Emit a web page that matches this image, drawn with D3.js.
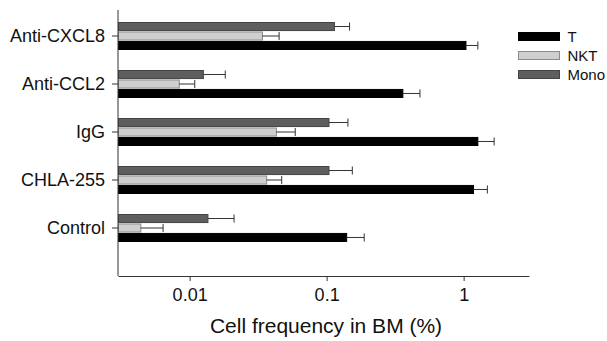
<!DOCTYPE html>
<html>
<head>
<meta charset="utf-8">
<script src="https://cdn.jsdelivr.net/npm/d3@7"></script>
<style>
  body { margin: 0; background: #fff; }
  svg { font-family: "Liberation Sans", Arial, sans-serif; }
</style>
</head>
<body>
<div id="chart"></div>
<script>
// Data (cell frequency in BM, %)
const categories = ["Anti-CXCL8", "Anti-CCL2", "IgG", "CHLA-255", "Control"];
const series = ["Mono", "NKT", "T"];
const tValues    = [1.04, 0.36, 1.27, 1.18, 0.14];
const tErrors    = [1.27, 0.48, 1.67, 1.49, 0.188];
const nktValues  = [0.034, 0.0084, 0.043, 0.0365, 0.0044];
const nktErrors  = [0.045, 0.0109, 0.059, 0.047, 0.0064];
const monoValues = [0.114, 0.0126, 0.104, 0.104, 0.0136];
const monoErrors = [0.147, 0.0182, 0.143, 0.154, 0.0211];
const xTicks = [0.01, 0.1, 1];
const legendOrder = ["T", "NKT", "Mono"];

const fills   = { T: "#000000", NKT: "#cfcfcf", Mono: "#5e5e5e" };
const strokes = { T: "#000000", NKT: "#8c8c8c", Mono: "#444444" };

const rows = [];
categories.forEach((c, i) => {
    rows.push({ cat: c, s: "Mono", v: monoValues[i], e: monoErrors[i] });
    rows.push({ cat: c, s: "NKT", v: nktValues[i], e: nktErrors[i] });
    rows.push({ cat: c, s: "T", v: tValues[i], e: tErrors[i] });
});

// Setup SVG
const width = 607, height = 341;
const plotLeft = 118, plotRight = 529, plotTop = 10, plotBottom = 276;

const svg = d3.select("#chart").append("svg")
    .attr("width", width)
    .attr("height", height);

const x = d3.scaleLog().domain([0.003, 3]).range([plotLeft, plotRight]);
const y = d3.scaleBand().domain(categories).range([12, 252]);
const yInner = d3.scaleBand().domain(series).range([-13.5, 13.5]).paddingInner(0.15);

// Bars
const bar = svg.append("g").selectAll("g")
    .data(rows)
    .enter().append("g")
    .attr("transform", d => `translate(0,${y(d.cat) + y.bandwidth() / 2 + yInner(d.s)})`);

bar.append("rect")
    .attr("x", x(0.003) + 0.5)
    .attr("y", 0)
    .attr("width", d => x(d.v) - x(0.003) - 0.5)
    .attr("height", yInner.bandwidth())
    .attr("fill", d => fills[d.s])
    .attr("stroke", d => strokes[d.s])
    .attr("stroke-width", 1);

// Error bars
bar.append("line")
    .attr("x1", d => x(d.v))
    .attr("x2", d => x(d.e))
    .attr("y1", yInner.bandwidth() / 2)
    .attr("y2", yInner.bandwidth() / 2)
    .attr("stroke", "#333")
    .attr("stroke-width", 1);

bar.append("line")
    .attr("x1", d => x(d.e))
    .attr("x2", d => x(d.e))
    .attr("y1", 0)
    .attr("y2", yInner.bandwidth())
    .attr("stroke", "#333")
    .attr("stroke-width", 1);

// Axes
const xAxis = svg.append("g")
    .attr("transform", `translate(0,${plotBottom})`)
    .call(d3.axisBottom(x).tickValues(xTicks).tickFormat(d3.format("")).tickSize(5).tickSizeOuter(0));
xAxis.select(".domain").attr("stroke", "#333");
xAxis.selectAll(".tick line").attr("stroke", "#333");
xAxis.selectAll("text")
    .attr("y", 12)
    .style("font-size", "18px")
    .attr("fill", "#111");

const yAxis = svg.append("g")
    .attr("transform", `translate(${plotLeft},0)`)
    .call(d3.axisLeft(y).tickSize(6).tickSizeOuter(0).tickPadding(7));
yAxis.select(".domain").remove();
yAxis.append("line")
    .attr("y1", plotTop).attr("y2", plotBottom)
    .attr("stroke", "#333");
yAxis.selectAll(".tick line").attr("stroke", "#333");
yAxis.selectAll("text")
    .style("font-size", "18px")
    .attr("fill", "#111");

// Axis title
svg.append("text")
    .attr("x", 326)
    .attr("y", 333)
    .attr("text-anchor", "middle")
    .style("font-size", "21px")
    .attr("fill", "#111")
    .text("Cell frequency in BM (%)");

// Legend
const legend = svg.append("g").selectAll("g")
    .data(legendOrder)
    .enter().append("g")
    .attr("transform", (d, i) => `translate(518.5,${32.5 + i * 19})`);

legend.append("rect")
    .attr("width", 41)
    .attr("height", 8)
    .attr("fill", d => fills[d])
    .attr("stroke", d => strokes[d]);

legend.append("text")
    .attr("x", 49)
    .attr("y", 9.5)
    .style("font-size", "15px")
    .attr("fill", "#111")
    .text(d => d);
</script>
</body>
</html>
